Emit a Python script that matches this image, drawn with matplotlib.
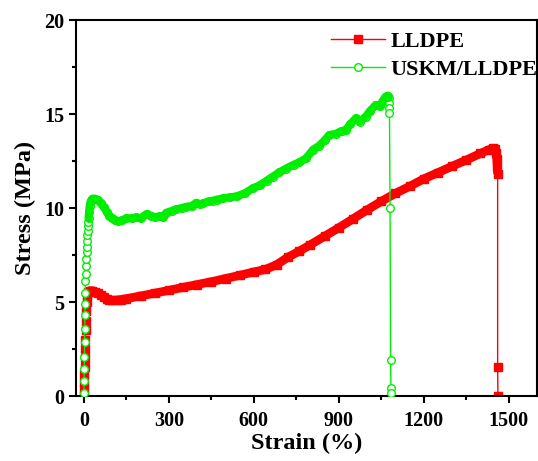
import matplotlib
matplotlib.use("Agg")
import matplotlib.pyplot as plt
import numpy as np

# ---------------- data ----------------
lldpe_strain = [0, 0.5, 1, 1.5, 2, 3, 4, 5, 6, 7, 8, 10, 12, 15,
                20, 30, 40, 50, 60, 70, 80, 90, 100, 115, 130,
                150, 200, 250, 300, 350, 400, 450, 500, 550, 600, 640, 680,
                720, 760, 800, 850, 900, 950, 1000, 1050, 1100, 1150, 1200,
                1250, 1300, 1350, 1400, 1430, 1445, 1452, 1456, 1458, 1460, 1461,
                1461, 1462]
lldpe_stress = [0, 0.35, 0.75, 1.15, 1.55, 2.0, 2.5, 3.0, 3.5, 4.0, 4.5, 5.0, 5.35, 5.55,
                5.6, 5.6, 5.55, 5.47, 5.37, 5.25, 5.15, 5.1, 5.08, 5.1, 5.13,
                5.18, 5.32, 5.47, 5.62, 5.78, 5.93, 6.08, 6.25, 6.42, 6.6, 6.73, 6.98,
                7.38, 7.7, 8.05, 8.5, 8.95, 9.42, 9.9, 10.35, 10.78, 11.15, 11.55,
                11.88, 12.22, 12.55, 12.9, 13.1, 13.18, 13.15, 12.95, 12.6, 12.2, 11.8,
                1.55, 0.0]

uskm_strain = [0, 0.5, 1, 1.5, 2, 2.5, 3, 3.5, 4, 5, 6, 7, 8, 9, 10, 11, 12, 13,
               14, 15, 16, 18, 20, 23,
               30, 40, 50, 60, 70, 80, 90, 100, 110, 120, 135, 150, 170, 185, 200,
               221, 235, 250, 268, 280, 291, 310, 326, 345, 362, 380, 397, 410, 420,
               440, 455, 470, 491, 514, 540, 570, 596, 620, 645, 667, 690, 714, 740,
               761, 785, 808, 830, 850, 866, 890, 910, 925, 940, 960, 975, 995, 1010,
               1030, 1045, 1055, 1065, 1072, 1076, 1077, 1078, 1079,
               1081, 1083, 1084, 1085]
uskm_stress = [0.15, 0.8, 1.45, 2.1, 2.85, 3.55, 4.3, 4.9, 5.5, 6.1, 6.5, 6.9, 7.3, 7.65,
               7.95, 8.25, 8.55, 8.8, 9.05, 9.25, 9.45, 9.8, 10.1, 10.35,
               10.5, 10.5, 10.42, 10.25, 10.05, 9.8, 9.6, 9.45, 9.35, 9.3, 9.35, 9.45,
               9.45, 9.5, 9.45, 9.68, 9.6, 9.5, 9.57, 9.5, 9.75, 9.85, 9.93, 10.0, 10.07,
               10.1, 10.28, 10.2, 10.25, 10.35, 10.39, 10.45, 10.51, 10.57, 10.62, 10.8,
               11.05, 11.2, 11.45, 11.67, 11.9, 12.1, 12.3, 12.43, 12.65, 13.09, 13.3,
               13.6, 13.88, 13.95, 14.1, 14.15, 14.45, 14.77, 14.6, 14.86, 15.15, 15.48,
               15.4, 15.7, 15.92, 15.98, 15.85, 15.6, 15.3, 15.05,
               10.0, 1.9, 0.45, 0.15]

series_labels = ["LLDPE", "USKM/LLDPE"]
x_ticks = [0, 300, 600, 900, 1200, 1500]
y_ticks = [0, 5, 10, 15, 20]

# ---------------- figure ----------------
RED = "#ff0000"
GREEN = "#00ee00"
serif = ["Liberation Serif", "DejaVu Serif"]

fig = plt.figure(figsize=(5.38, 4.61), dpi=100)
ax = fig.add_axes([75.5 / 538, 65 / 461, 461.5 / 538, 376 / 461])

ls = np.array(lldpe_strain, dtype=float)
lsig = np.array(lldpe_stress, dtype=float)
us = np.array(uskm_strain, dtype=float)
usig = np.array(uskm_stress, dtype=float)

# dense band parts (where the original markers overlap into a solid band)
rmask = (ls >= 12) & (lsig > 5)
rmask[-2:] = False
gmask = (us >= 16) & (us <= 1076)

ax.plot(ls[rmask], lsig[rmask], color=RED, lw=6.3, solid_capstyle="butt",
        solid_joinstyle="round", zorder=2)
ax.plot(ls, lsig, color=RED, lw=1.0, marker="s", ms=5.5, mfc=RED, mec=RED,
        label=series_labels[0], zorder=2)

ax.plot(us, usig, color=GREEN, lw=1.0, marker="o", ms=5.5, mfc="white", mec=GREEN,
        mew=1.0, label=series_labels[1], zorder=3)
ax.plot(us[gmask], usig[gmask], color=GREEN, lw=5.8, solid_capstyle="round",
        solid_joinstyle="round", zorder=3)

ax.set_xlim(-30, 1600)
ax.set_ylim(0, 20)
ax.set_xticks(x_ticks)
ax.set_yticks(y_ticks)
ax.set_xticks([150, 450, 750, 1050, 1350], minor=True)
ax.set_yticks([2.5, 7.5, 12.5, 17.5], minor=True)
ax.tick_params(which="major", direction="out", length=5, width=1.5)
ax.tick_params(which="minor", direction="out", length=3, width=1.5)
ax.tick_params(axis="x", which="major", pad=6)
ax.tick_params(axis="y", which="major", pad=3)
for sp in ax.spines.values():
    sp.set_linewidth(1.5)

for lab in ax.get_xticklabels() + ax.get_yticklabels():
    lab.set_fontfamily(serif)
    lab.set_fontweight("bold")
    lab.set_fontsize(14.5)

ax.set_xlabel("Strain (%)", fontfamily=serif, fontweight="bold", fontsize=17.5, labelpad=1)
ax.set_ylabel("Stress (MPa)", fontfamily=serif, fontweight="bold", fontsize=17.5, labelpad=6)

leg = ax.legend(loc="upper left", bbox_to_anchor=(331 / 538, 1 - 31 / 461),
                bbox_transform=fig.transFigure, frameon=False, borderpad=0,
                borderaxespad=0, handlelength=2.43, handletextpad=0.26,
                labelspacing=0.34, numpoints=1,
                prop={"family": serif, "weight": "bold", "size": 16})

fig.savefig("out.png", dpi=100)
